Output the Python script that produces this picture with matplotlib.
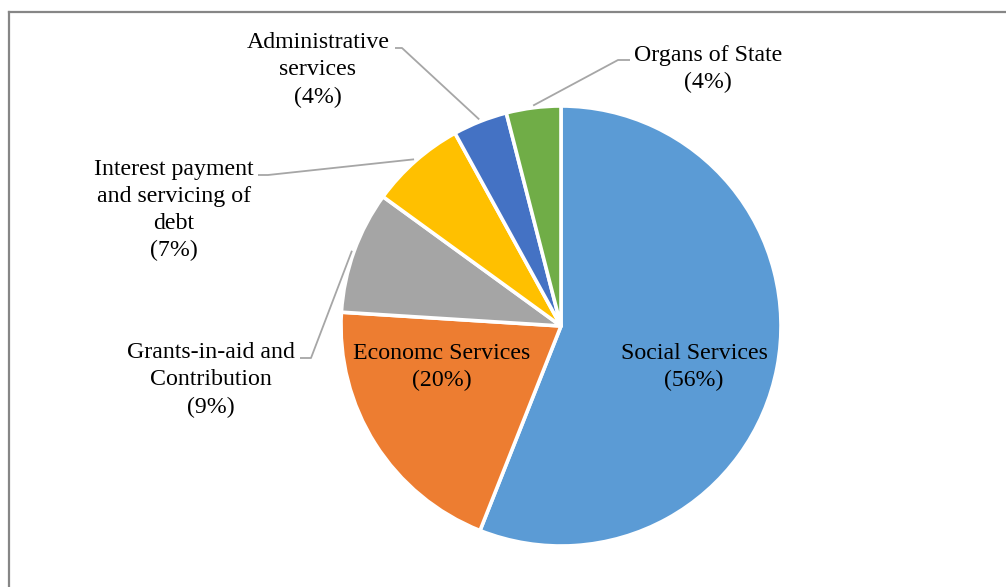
import numpy as np
import matplotlib
matplotlib.use('Agg')
import matplotlib.pyplot as plt
from matplotlib.lines import Line2D

# Expenditure shares by category (percent)
categories = ['Social Services', 'Economc Services', 'Grants-in-aid and\nContribution',
              'Interest payment\nand servicing of\ndebt', 'Administrative\nservices',
              'Organs of State']
shares = [56, 20, 9, 7, 4, 4]
colors = ['#5B9BD5', '#ED7D31', '#A5A5A5', '#FFC000', '#4472C4', '#70AD47']

W, H = 1006, 587
CX, CY, R = 561, H - 326, 220

plt.rcParams['font.family'] = ['Liberation Serif', 'DejaVu Serif']

fig = plt.figure(figsize=(W / 100, H / 100), dpi=100)
ax = fig.add_axes([0, 0, 1, 1])

wedges, _ = ax.pie(shares, colors=colors, startangle=90, counterclock=False,
                   radius=R, center=(CX, CY),
                   wedgeprops=dict(edgecolor='white', linewidth=2.6, joinstyle='round'))
ax.set_xlim(0, W)
ax.set_ylim(0, H)
ax.set_aspect('auto')
ax.axis('off')

fs = 17.2
ls = 1.38

# labels inside the two big slices
inside = {0: (694, 367), 1: (442, 367)}
for i, (x, y) in inside.items():
    ax.text(x, H - y, f'{categories[i]}\n({shares[i]}%)', ha='center', va='center',
            fontsize=fs, linespacing=ls)

# outside labels: text centre, elbow point, end of short horizontal stub
outside = {
    2: ((211, 380), (311, 358), (300, 358)),
    3: ((174, 210), (268, 175), (258, 175)),
    4: ((318, 70), (402, 48), (395, 48)),
    5: ((708, 69), (618, 60), (630, 60)),
}
for i, (txt, elbow, stub) in outside.items():
    ax.text(txt[0], H - txt[1], f'{categories[i]}\n({shares[i]}%)',
            ha='center', va='center', fontsize=fs, linespacing=ls)
    w = wedges[i]
    mid = np.deg2rad((w.theta1 + w.theta2) / 2)
    px = CX + R * 1.01 * np.cos(mid)
    py = CY + R * 1.01 * np.sin(mid)
    ax.plot([px, elbow[0], stub[0]], [py, H - elbow[1], H - stub[1]],
            color='#A6A6A6', lw=1.3, solid_capstyle='butt')

# chart frame (top and left edges visible)
top = 1 - 12 / H
left = 9 / W
fig.add_artist(Line2D([left, 1], [top, top], transform=fig.transFigure,
                      color='#868686', lw=1.6))
fig.add_artist(Line2D([left, left], [0, top], transform=fig.transFigure,
                      color='#868686', lw=1.6))

fig.savefig('out.png', dpi=100)
